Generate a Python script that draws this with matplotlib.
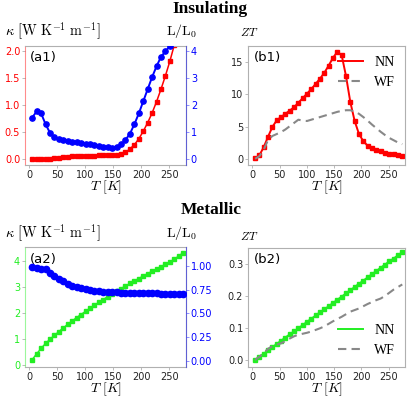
import numpy as np
import matplotlib
matplotlib.use("Agg")
import matplotlib.pyplot as plt

plt.rcParams["mathtext.fontset"] = "cm"

# temperature grid (K), same for every curve
T = np.linspace(5, 275, 35)

# insulating: thermal conductivity (red) and Lorenz ratio (blue)
kappa_ins = [0.0, 0.0, 0.005, 0.01, 0.015, 0.02, 0.03, 0.04, 0.05, 0.055, 0.06, 0.065,
             0.07, 0.07, 0.07, 0.075, 0.075, 0.075, 0.08, 0.085, 0.1, 0.13, 0.19, 0.27,
             0.38, 0.52, 0.68, 0.86, 1.07, 1.3, 1.55, 1.82, 2.12, 2.45, 2.8]
lorenz_ins = [1.55, 1.78, 1.7, 1.3, 0.98, 0.82, 0.75, 0.71, 0.69, 0.66, 0.63, 0.6,
              0.58, 0.55, 0.53, 0.5, 0.47, 0.44, 0.43, 0.45, 0.55, 0.72, 0.95, 1.3,
              1.7, 2.15, 2.6, 3.05, 3.45, 3.8, 4.0, 4.2, 4.45, 4.7, 4.9]
# insulating: figure of merit, neural network vs Wiedemann-Franz
zt_nn_ins = [0.15, 0.65, 1.9, 3.5, 5.0, 6.0, 6.5, 7.0, 7.5, 8.0, 8.7, 9.4,
             10.1, 10.8, 11.6, 12.4, 13.3, 14.4, 15.6, 16.5, 16.0, 12.8, 8.8, 5.9,
             3.9, 2.8, 2.1, 1.7, 1.45, 1.25, 1.05, 0.9, 0.78, 0.68, 0.6]
zt_wf_ins = [0.1, 0.5, 1.5, 3.0, 3.6, 3.9, 4.2, 4.6, 5.1, 5.6, 6.1, 5.95,
             5.9, 6.1, 6.3, 6.5, 6.7, 6.9, 7.1, 7.3, 7.45, 7.55, 7.55, 7.35,
             7.0, 6.5, 5.95, 5.35, 4.8, 4.25, 3.75, 3.3, 2.95, 2.6, 2.35]

# metallic
kappa_met = [0.2, 0.42, 0.63, 0.82, 0.98, 1.13, 1.28, 1.42, 1.56, 1.69, 1.82, 1.94,
             2.06, 2.18, 2.3, 2.41, 2.52, 2.63, 2.74, 2.84, 2.94, 3.04, 3.14, 3.24,
             3.33, 3.43, 3.52, 3.61, 3.7, 3.79, 3.88, 3.97, 4.08, 4.2, 4.33]
lorenz_met = [0.99, 0.98, 0.97, 0.96, 0.92, 0.89, 0.865, 0.84, 0.81, 0.79, 0.777, 0.763,
              0.753, 0.742, 0.735, 0.73, 0.728, 0.725, 0.72, 0.72, 0.718, 0.716, 0.715, 0.714,
              0.712, 0.712, 0.711, 0.71, 0.709, 0.708, 0.708, 0.707, 0.707, 0.706, 0.705]
zt_nn_met = [0.0, 0.01, 0.02, 0.03, 0.04, 0.05, 0.06, 0.07, 0.08, 0.089, 0.099, 0.109,
             0.119, 0.129, 0.139, 0.149, 0.158, 0.168, 0.178, 0.188, 0.198, 0.208, 0.218, 0.228,
             0.238, 0.248, 0.258, 0.268, 0.278, 0.288, 0.298, 0.308, 0.317, 0.327, 0.337]
zt_wf_met = [0.0, 0.01, 0.022, 0.035, 0.043, 0.048, 0.052, 0.059, 0.067, 0.074, 0.079, 0.082,
             0.085, 0.089, 0.094, 0.099, 0.105, 0.113, 0.121, 0.128, 0.135, 0.143, 0.151, 0.156,
             0.161, 0.168, 0.175, 0.181, 0.187, 0.192, 0.2, 0.21, 0.22, 0.228, 0.236]

RED = "#ff0000"
BLUE = "#0000ff"
GREEN = "#22ee22"
GREY = "#888888"
SPINE = "#b0b0b0"
xticks = [0, 50, 100, 150, 200, 250]

fig = plt.figure(figsize=(4.15, 3.98), dpi=100)
W, H = 415, 398


def box(l, t, r, b):
    return [l / W, 1 - b / H, (r - l) / W, (b - t) / H]


def style(ax, left_col):
    for s in ax.spines.values():
        s.set_color(SPINE)
        s.set_linewidth(0.8)
    ax.set_xlim(-8, 280)
    ax.set_xticks(xticks)
    ax.tick_params(axis="x", labelsize=7, length=2, width=0.6, color=SPINE, pad=1.5, colors="#222222")
    ax.tick_params(axis="y", labelsize=7, length=2, width=0.6, pad=1.5, labelcolor=left_col, color=SPINE)
    ax.set_xlabel(r"$T\ [K]$", fontsize=10, labelpad=-1)


def kappa_panel(rect, kappa, lorenz, kcol, kylim, kticks, lylim, lticks, lms, tag, row_y):
    ax = fig.add_axes(rect)
    style(ax, kcol)
    ax.plot(T, kappa, color=kcol, marker="s", ms=2.3, lw=1.1)
    ax.set_ylim(*kylim)
    ax.set_yticks(kticks)
    ax.spines["left"].set_color(kcol)
    ax.spines["left"].set_alpha(0.45)
    ax2 = ax.twinx()
    ax2.plot(T, lorenz, color=BLUE, marker="o", ms=lms, lw=1.4)
    ax2.set_ylim(*lylim)
    ax2.set_yticks(lticks)
    for s in ax2.spines.values():
        s.set_visible(False)
    ax2.spines["right"].set_visible(True)
    ax2.spines["right"].set_color(BLUE)
    ax2.spines["right"].set_alpha(0.45)
    ax2.tick_params(axis="y", labelsize=7, length=2, width=0.6, pad=1.5, labelcolor=BLUE, color="#8080ff")
    ax.text(0.03, 0.9, tag, transform=ax.transAxes, fontsize=9.5, va="center")
    fig.text(5 / W, 1 - row_y / H, r"$\kappa\ [\mathrm{W\ K^{-1}\ m^{-1}}]$", fontsize=10.3, va="center")
    fig.text(197 / W, 1 - row_y / H, r"$\mathrm{L/L_0}$", fontsize=10, va="center", ha="right")
    return ax


def zt_panel(rect, nn, wf, col, ylim, yticks, tag, legloc, row_y):
    ax = fig.add_axes(rect)
    style(ax, "#222222")
    ax.plot(T, nn, color=col, marker="s", ms=2.3, lw=1.4, label="NN")
    ax.plot(T, wf, color=GREY, ls=(0, (4, 2.5)), lw=1.5, label="WF")
    ax.set_ylim(*ylim)
    ax.set_yticks(yticks)
    ax.text(0.04, 0.9, tag, transform=ax.transAxes, fontsize=9.5, va="center")
    leg = ax.legend(loc=legloc, frameon=False, handlelength=1.8, borderaxespad=0.3,
                    prop={"family": "Liberation Serif", "size": 10})
    for h in leg.legend_handles:
        h.set_marker("")
    fig.text(249 / W, 1 - row_y / H, r"$ZT$", fontsize=8.5, va="center", ha="center")
    return ax


kappa_panel(box(25, 46, 186, 165), kappa_ins, lorenz_ins, RED,
            (-0.105, 2.1), [0, 0.5, 1.0, 1.5, 2.0], (-0.21, 4.2), [0, 1, 2, 3, 4], 3.8, "(a1)", 31.5)
zt_panel(box(248, 46, 405, 165), zt_nn_ins, zt_wf_ins, RED,
         (-0.85, 17.4), [0, 5, 10, 15], "(b1)", "upper right", 32.5)
kappa_panel(box(25, 247, 186, 367), kappa_met, lorenz_met, GREEN,
            (-0.09, 4.55), [0, 1, 2, 3, 4], (-0.06, 1.195), [0, 0.25, 0.5, 0.75, 1.0], 4.5, "(a2)", 233.5)
zt_panel(box(248, 248, 405, 367), zt_nn_met, zt_wf_met, GREEN,
         (-0.022, 0.35), [0.0, 0.1, 0.2, 0.3], "(b2)", "lower right", 236.5)

fig.text(210 / W, 1 - 9 / H, "Insulating", fontsize=12.5, fontweight="bold",
         family="Liberation Serif", ha="center", va="center")
fig.text(211 / W, 1 - 210 / H, "Metallic", fontsize=12.5, fontweight="bold",
         family="Liberation Serif", ha="center", va="center")

fig.savefig("out.png", dpi=100)
